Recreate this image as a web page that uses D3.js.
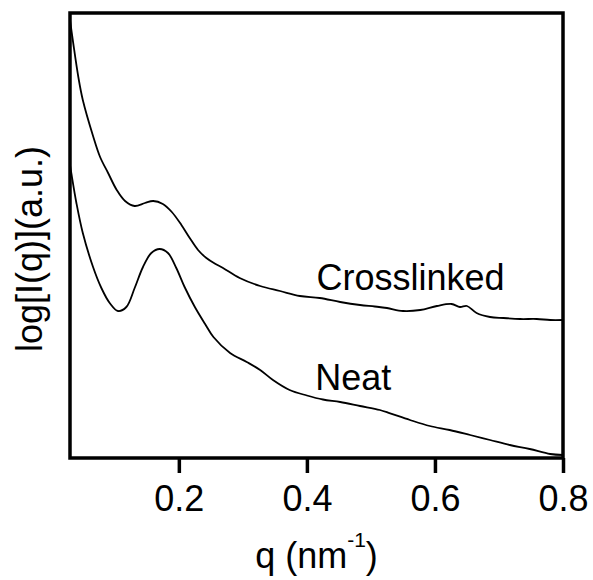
<!DOCTYPE html>
<html>
<head>
<meta charset="utf-8">
<script src="https://cdn.jsdelivr.net/npm/d3@7"></script>
<style>
  html, body { margin: 0; padding: 0; background: #fff; }
  text { font-family: "Liberation Sans", Arial, sans-serif; fill: #000; }
</style>
</head>
<body>
<svg id="chart" width="593" height="580"></svg>
<script>
// q (nm^-1) and log intensity (arbitrary units)
const crosslinkedQ = [0.030,0.035,0.043,0.050,0.066,0.077,0.0895,0.103,0.116,0.131,0.147,0.160,0.175,0.189,0.204,0.217,0.230,0.243,0.256,0.269,0.295,0.327,0.358,0.389,0.420,0.452,0.483,0.506,0.525,0.550,0.577,0.603,0.626,0.639,0.650,0.665,0.686,0.707,0.733,0.759,0.780,0.800];
const crosslinkedI = [4.38,4.15,3.81,3.58,3.22,3.01,2.85,2.68,2.57,2.52,2.55,2.57,2.54,2.46,2.33,2.20,2.08,2.00,1.945,1.90,1.80,1.72,1.67,1.62,1.60,1.56,1.53,1.515,1.50,1.47,1.48,1.52,1.54,1.51,1.52,1.45,1.41,1.40,1.39,1.39,1.38,1.38];

const neatQ = [0.030,0.032,0.040,0.050,0.066,0.079,0.092,0.105,0.118,0.131,0.144,0.157,0.170,0.183,0.196,0.209,0.225,0.241,0.254,0.280,0.306,0.327,0.347,0.373,0.400,0.425,0.452,0.483,0.514,0.530,0.561,0.592,0.623,0.655,0.686,0.717,0.748,0.780,0.800];
const neatI = [2.93,2.85,2.55,2.25,1.91,1.70,1.55,1.47,1.51,1.70,1.91,2.05,2.09,2.05,1.90,1.71,1.51,1.34,1.21,1.05,0.96,0.88,0.78,0.68,0.625,0.585,0.56,0.52,0.48,0.447,0.38,0.32,0.28,0.23,0.18,0.13,0.09,0.04,0.03];

const xTicks = [0.2, 0.4, 0.6, 0.8];
const xDomain = [0.03, 0.8];
const yDomain = [0, 4.45];

const seriesLabels = [
  { text: "Crosslinked", q: 0.415, v: 1.68 },
  { text: "Neat", q: 0.413, v: 0.68 }
];

const svg = d3.select("#chart");
const mLeft = 70, mRight = 563, mTop = 13, mBottom = 458;

const x = d3.scaleLinear().domain(xDomain).range([mLeft, mRight]);
const y = d3.scaleLinear().domain(yDomain).range([mBottom, mTop]);

svg.append("defs").append("clipPath").attr("id", "clip")
  .append("rect").attr("x", mLeft).attr("y", mTop)
  .attr("width", mRight - mLeft).attr("height", mBottom - mTop);

const line = d3.line()
  .x(d => x(d[0])).y(d => y(d[1]))
  .curve(d3.curveCatmullRom.alpha(0.5));

const series = [
  d3.zip(crosslinkedQ, crosslinkedI),
  d3.zip(neatQ, neatI)
];

svg.append("g").attr("clip-path", "url(#clip)")
  .selectAll("path").data(series).join("path")
  .attr("d", line)
  .attr("fill", "none")
  .attr("stroke", "#000")
  .attr("stroke-width", 1.8)
  .attr("stroke-linejoin", "round");

// frame
svg.append("rect")
  .attr("x", mLeft).attr("y", mTop)
  .attr("width", mRight - mLeft).attr("height", mBottom - mTop)
  .attr("fill", "none").attr("stroke", "#000").attr("stroke-width", 3.5);

// x axis
const xAxis = d3.axisBottom(x).tickValues(xTicks)
  .tickFormat(d3.format(".1f")).tickSize(15).tickPadding(12);
const gx = svg.append("g").attr("transform", `translate(0,${mBottom})`).call(xAxis);
gx.select(".domain").remove();
gx.selectAll(".tick line").attr("stroke", "#000").attr("stroke-width", 3.5);
gx.selectAll(".tick text")
  .attr("font-size", 36)
  .attr("font-family", "Liberation Sans, Arial, sans-serif")
  .attr("fill", "#000");

// axis titles
const xt = svg.append("text")
  .attr("x", (mLeft + mRight) / 2).attr("y", 568)
  .attr("text-anchor", "middle").attr("font-size", 36);
xt.append("tspan").text("q (nm");
xt.append("tspan").text("-1").attr("font-size", 21).attr("dy", -21);
xt.append("tspan").text(")").attr("dy", 21);

svg.append("text")
  .attr("transform", `translate(42,249) rotate(-90)`)
  .attr("text-anchor", "middle").attr("font-size", 36)
  .text("log[I(q)](a.u.)");

svg.selectAll(".serieslabel").data(seriesLabels).join("text")
  .attr("class", "serieslabel")
  .attr("x", d => x(d.q)).attr("y", d => y(d.v))
  .attr("font-size", 36)
  .text(d => d.text);
</script>
</body>
</html>
